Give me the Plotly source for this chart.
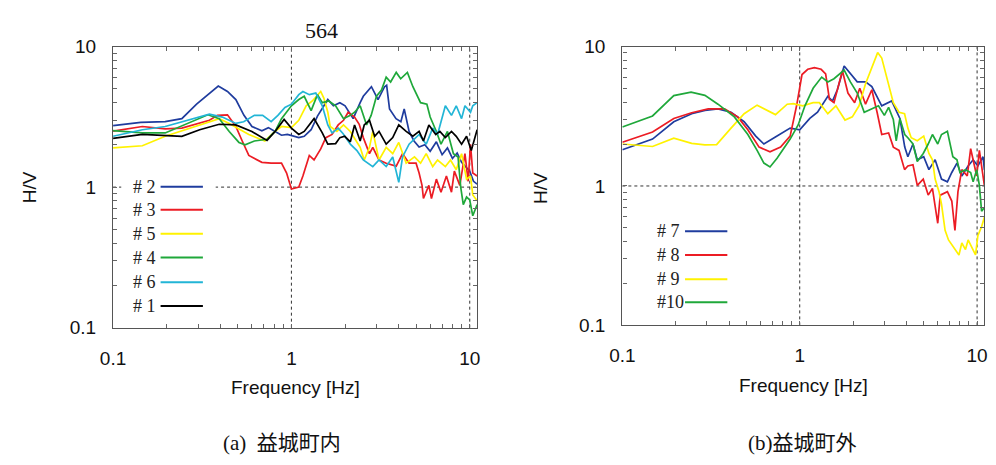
import plotly.graph_objects as go

W, H = 996, 465

# ---------------- data: (a) inside Mashiki town ----------------
f2 = [0.1, 0.143, 0.196, 0.243, 0.294, 0.333, 0.389, 0.438, 0.488, 0.542, 0.601, 0.683, 0.743, 0.81, 0.88, 0.95, 1.04, 1.1, 1.18, 1.29, 1.4, 1.48, 1.6, 1.72, 1.87, 2.0, 2.14, 2.22, 2.43, 2.53, 2.81, 3.06, 3.33, 3.42, 3.55, 3.86, 4.11, 4.29, 4.57, 4.87, 5.2, 5.6, 6.0, 6.5, 7.0, 7.5, 8.0, 8.5, 9.0, 9.5, 10.0, 10.5, 11.0]
v2 = [2.74, 2.89, 2.92, 3.07, 3.89, 4.43, 5.24, 4.79, 4.2, 3.24, 2.7, 2.52, 2.65, 2.49, 2.34, 2.37, 2.28, 2.25, 2.3, 2.56, 3.2, 3.6, 4.2, 3.79, 3.99, 3.79, 3.3, 3.07, 3.99, 4.43, 5.18, 4.2, 5.18, 5.3, 3.6, 3.07, 2.92, 3.6, 2.49, 2.13, 1.93, 2.0, 1.8, 2.1, 1.7, 1.9, 1.6, 1.75, 1.5, 1.4, 1.3, 1.1, 1.05]

f3 = [0.1, 0.146, 0.196, 0.243, 0.347, 0.385, 0.438, 0.488, 0.53, 0.577, 0.683, 0.77, 0.88, 0.94, 1.0, 1.1, 1.16, 1.26, 1.34, 1.46, 1.56, 1.69, 1.83, 1.96, 2.08, 2.26, 2.4, 2.53, 2.74, 2.86, 3.1, 3.4, 3.87, 4.2, 4.57, 5.0, 5.2, 5.4, 5.5, 5.9, 6.1, 6.5, 6.9, 7.4, 7.9, 8.2, 8.8, 9.4, 9.8, 10.1, 10.4, 11.0]
v3 = [2.5, 2.7, 2.6, 2.63, 2.99, 3.24, 3.27, 2.7, 2.13, 1.68, 1.5, 1.48, 1.48, 1.26, 0.97, 1.0, 1.2, 1.68, 1.56, 1.87, 2.25, 2.37, 2.77, 2.99, 3.41, 3.15, 2.8, 2.25, 1.73, 1.92, 1.56, 1.48, 1.41, 1.73, 1.48, 1.48, 1.26, 1.03, 0.83, 1.03, 0.83, 1.14, 0.92, 1.2, 0.92, 1.3, 1.03, 1.73, 1.1, 2.02, 1.26, 1.2]

f5 = [0.1, 0.146, 0.196, 0.27, 0.347, 0.394, 0.448, 0.577, 0.71, 0.81, 0.88, 1.0, 1.1, 1.21, 1.31, 1.46, 1.52, 1.6, 1.65, 1.8, 1.96, 2.14, 2.43, 2.56, 2.74, 2.86, 3.1, 3.4, 3.7, 4.0, 4.4, 4.9, 5.3, 5.7, 6.2, 6.6, 7.3, 7.8, 8.4, 9.0, 9.6, 10.1, 10.4, 11.0]
v5 = [1.9, 1.97, 2.3, 2.63, 2.92, 3.07, 2.84, 2.37, 2.13, 2.49, 2.7, 2.65, 2.99, 3.79, 4.1, 4.79, 4.3, 3.41, 2.7, 2.49, 2.77, 2.49, 1.92, 1.56, 1.92, 2.49, 1.56, 1.92, 1.73, 2.08, 1.48, 1.64, 1.48, 1.73, 1.4, 1.56, 1.4, 1.56, 1.33, 1.73, 1.14, 1.2, 0.88, 0.8]

f4 = [0.1, 0.146, 0.196, 0.248, 0.34, 0.394, 0.448, 0.508, 0.55, 0.62, 0.73, 0.81, 0.88, 1.0, 1.1, 1.18, 1.29, 1.4, 1.49, 1.62, 1.77, 1.96, 2.14, 2.26, 2.43, 2.64, 2.8, 3.0, 3.2, 3.4, 3.6, 3.87, 4.1, 4.47, 4.8, 5.3, 5.75, 6.0, 6.5, 6.9, 7.5, 8.1, 8.6, 8.9, 9.2, 9.6, 10.0, 10.4, 11.0]
v4 = [2.52, 2.43, 2.43, 2.77, 3.27, 3.07, 2.49, 2.08, 2.0, 2.13, 2.19, 2.49, 3.07, 3.79, 4.2, 4.43, 3.5, 4.55, 3.99, 4.1, 3.79, 3.07, 3.24, 3.41, 3.79, 2.77, 3.24, 4.43, 4.9, 6.06, 5.6, 6.55, 5.9, 6.55, 5.18, 3.99, 3.89, 3.15, 2.49, 2.02, 2.49, 1.73, 1.64, 1.0, 0.75, 0.85, 0.81, 0.625, 0.75]

f6 = [0.1, 0.146, 0.196, 0.248, 0.347, 0.41, 0.488, 0.54, 0.62, 0.69, 0.77, 0.84, 0.92, 1.0, 1.1, 1.16, 1.26, 1.37, 1.49, 1.6, 1.69, 1.83, 1.95, 2.14, 2.33, 2.53, 2.7, 2.86, 3.1, 3.4, 3.7, 4.0, 4.2, 4.57, 5.2, 5.7, 6.2, 6.6, 7.3, 7.9, 8.4, 9.0, 9.4, 10.1, 10.4, 11.0]
v6 = [2.3, 2.56, 2.7, 2.92, 3.3, 3.15, 2.84, 2.92, 3.24, 3.24, 2.92, 3.24, 3.69, 3.89, 4.55, 4.79, 4.55, 4.67, 3.79, 2.77, 2.43, 2.63, 2.4, 2.02, 1.82, 1.56, 1.48, 1.4, 1.56, 1.4, 1.64, 1.08, 1.64, 2.02, 2.37, 2.02, 2.63, 2.37, 3.79, 3.24, 3.79, 3.07, 3.79, 3.41, 3.79, 3.99]

f1 = [0.1, 0.146, 0.243, 0.306, 0.394, 0.488, 0.6, 0.73, 0.81, 0.91, 1.0, 1.1, 1.18, 1.34, 1.49, 1.6, 1.77, 1.87, 1.99, 2.14, 2.26, 2.43, 2.56, 2.74, 2.93, 3.1, 3.4, 3.7, 4.0, 4.4, 4.8, 5.2, 5.5, 5.9, 6.45, 6.8, 7.3, 7.9, 8.4, 9.0, 9.6, 10.2, 11.0]
v1 = [2.22, 2.37, 2.3, 2.56, 2.8, 2.77, 2.49, 2.15, 2.49, 3.03, 2.63, 2.37, 2.49, 3.07, 2.43, 2.02, 2.04, 2.25, 2.3, 2.1, 2.77, 2.13, 2.77, 2.99, 2.3, 2.49, 2.02, 2.25, 2.77, 2.49, 2.3, 2.49, 2.13, 2.77, 2.37, 2.49, 2.25, 2.49, 2.3, 2.02, 2.3, 1.82, 2.56]

# ---------------- data: (b) outside Mashiki town ----------------
f7 = [0.1, 0.148, 0.195, 0.246, 0.292, 0.346, 0.41, 0.486, 0.565, 0.628, 0.745, 0.883, 1.0, 1.14, 1.26, 1.44, 1.53, 1.63, 1.78, 1.9, 2.11, 2.35, 2.55, 2.9, 3.3, 3.67, 3.91, 4.07, 4.35, 4.6, 5.0, 5.35, 5.8, 6.3, 6.8, 7.2, 7.7, 8.2, 8.9, 9.5, 10.1, 10.8, 11.0]
v7 = [1.82, 2.17, 2.89, 3.3, 3.48, 3.57, 3.38, 2.89, 2.28, 2.0, 2.28, 2.6, 2.53, 3.05, 3.38, 4.4, 4.07, 4.9, 7.26, 6.53, 5.58, 5.58, 5.16, 3.76, 4.07, 3.05, 1.9, 1.62, 2.0, 1.54, 1.62, 1.31, 1.54, 1.12, 1.07, 1.25, 1.46, 1.18, 1.39, 1.54, 1.39, 1.62, 1.3]

f8 = [0.1, 0.148, 0.195, 0.246, 0.305, 0.377, 0.447, 0.51, 0.59, 0.68, 0.78, 0.883, 0.96, 1.03, 1.11, 1.21, 1.32, 1.4, 1.47, 1.56, 1.74, 1.87, 2.04, 2.18, 2.35, 2.55, 2.73, 2.9, 3.17, 3.37, 3.63, 3.9, 4.07, 4.35, 4.6, 4.97, 5.3, 5.6, 6.0, 6.2, 6.8, 7.2, 7.5, 7.8, 8.2, 8.8, 9.2, 9.5, 9.95, 10.3, 10.8, 11.0]
v8 = [2.06, 2.44, 3.05, 3.35, 3.57, 3.57, 3.13, 2.53, 1.9, 1.76, 1.9, 2.28, 3.76, 6.3, 6.87, 7.07, 6.87, 6.36, 4.18, 3.96, 6.71, 4.64, 3.96, 5.02, 3.86, 4.9, 3.38, 2.34, 2.4, 1.9, 1.8, 1.31, 1.39, 1.42, 1.01, 1.12, 0.86, 0.96, 0.54, 0.86, 0.91, 0.78, 0.48, 0.91, 1.31, 1.18, 1.85, 1.54, 1.18, 1.8, 1.18, 1.0]

f9 = [0.1, 0.148, 0.195, 0.246, 0.292, 0.34, 0.41, 0.486, 0.575, 0.73, 0.85, 0.92, 1.04, 1.19, 1.29, 1.44, 1.6, 1.8, 1.98, 2.16, 2.35, 2.55, 2.75, 2.9, 3.1, 3.22, 3.37, 3.63, 3.9, 4.07, 4.25, 4.6, 5.0, 5.35, 5.6, 5.8, 6.1, 6.3, 6.6, 6.9, 7.3, 7.9, 8.2, 8.6, 8.9, 9.3, 9.8, 10.1, 10.6, 11.0]
v9 = [2.0, 1.92, 2.2, 2.02, 1.97, 1.98, 2.6, 3.3, 3.8, 3.25, 3.86, 3.9, 3.76, 3.96, 3.96, 3.3, 3.76, 2.97, 3.13, 3.76, 5.42, 7.07, 9.05, 8.27, 5.88, 4.9, 3.96, 3.38, 3.3, 2.6, 2.22, 2.11, 2.28, 1.71, 1.54, 1.12, 0.91, 0.74, 0.48, 0.41, 0.37, 0.32, 0.39, 0.35, 0.41, 0.37, 0.32, 0.44, 0.51, 0.6]

f10 = [0.1, 0.148, 0.195, 0.244, 0.292, 0.346, 0.428, 0.51, 0.575, 0.628, 0.68, 0.745, 0.883, 0.98, 1.07, 1.19, 1.33, 1.44, 1.56, 1.78, 1.93, 2.11, 2.31, 2.55, 2.78, 3.0, 3.17, 3.37, 3.5, 3.67, 3.91, 4.07, 4.35, 4.6, 4.97, 5.3, 5.6, 6.0, 6.3, 6.8, 7.3, 7.7, 8.0, 8.6, 9.2, 9.5, 9.95, 10.3, 10.6, 11.0]
v10 = [2.65, 3.18, 4.45, 4.71, 4.47, 3.86, 3.13, 2.34, 1.8, 1.46, 1.37, 1.58, 2.17, 2.74, 3.76, 5.02, 6.04, 5.58, 5.88, 6.78, 5.58, 4.64, 3.38, 3.57, 3.76, 3.21, 3.66, 3.0, 2.11, 3.05, 2.34, 2.22, 2.0, 1.5, 1.71, 2.0, 2.34, 2.0, 2.34, 2.47, 1.62, 1.54, 1.25, 1.31, 1.25, 1.07, 1.31, 1.01, 0.66, 0.7]

left_labels = ["# 2", "# 3", "# 5", "# 4", "# 6", "# 1"]
right_labels = ["# 7", "# 8", "# 9", "#10"]
decades = [0.1, 1, 10]
tick_vals = [0.1, 0.2, 0.3, 0.4, 0.5, 0.6, 0.7, 0.8, 0.9, 1, 2, 3, 4, 5, 6, 7, 8, 9, 10]
tick_text = ["0.1", "", "", "", "", "", "", "", "", "1", "", "", "", "", "", "", "", "", "10"]

BLUE, RED, YEL, GRN, CYA, BLK = "#1f3c9e", "#ec1c24", "#fff200", "#1fa83a", "#22b5d6", "#000000"

left_series = [(f2, v2, BLUE), (f3, v3, RED), (f5, v5, YEL), (f4, v4, GRN), (f6, v6, CYA), (f1, v1, BLK)]
right_series = [(f7, v7, BLUE), (f8, v8, RED), (f9, v9, YEL), (f10, v10, GRN)]


def px(x):
    return x / W


def py(y):
    return 1 - y / H


fig = go.Figure()
for (f, v, c), name in zip(left_series, left_labels):
    fig.add_trace(go.Scatter(x=f, y=v, mode="lines", line=dict(color=c, width=1.7), name=name,
                             xaxis="x", yaxis="y", showlegend=False))
for (f, v, c), name in zip(right_series, right_labels):
    fig.add_trace(go.Scatter(x=f, y=v, mode="lines", line=dict(color=c, width=1.7), name=name,
                             xaxis="x2", yaxis="y2", showlegend=False))

tickfont = dict(family="Liberation Sans, Arial, sans-serif", size=19, color="#111")
axis_common = dict(
    type="log", showline=True, mirror="allticks", linecolor="#555", linewidth=1.3,
    ticks="inside", ticklen=4, tickcolor="#666", tickwidth=1,
    showgrid=False, tickmode="array", tickvals=tick_vals, ticktext=tick_text,
    tickfont=tickfont, zeroline=False,
)

fig.update_layout(
    width=W, height=H, margin=dict(l=0, r=0, t=0, b=0),
    paper_bgcolor="white", plot_bgcolor="white", showlegend=False,
    xaxis=dict(domain=[px(101.7), px(471.7)], range=[-1, 1.0414], anchor="y", ticklabelstandoff=13, **axis_common),
    yaxis=dict(domain=[py(332.7), py(38.3)], range=[-1, 1], anchor="x", ticklabelstandoff=12, **axis_common),
    xaxis2=dict(domain=[px(619.3), px(987.3)], range=[-1, 1.0414], anchor="y2", ticklabelstandoff=13, **axis_common),
    yaxis2=dict(domain=[py(330.3), py(38.3)], range=[-1, 1], anchor="x2", ticklabelstandoff=12, **axis_common),
)

shapes = []
annotations = []

# dotted decade grid lines
grid_line = dict(color="#333", width=1, dash="dot")
for xr, yr in (("x", "y"), ("x2", "y2")):
    for d in decades[1:]:
        shapes.append(dict(type="line", xref=xr, yref=yr + " domain", x0=d, x1=d, y0=0, y1=1,
                           line=grid_line, layer="below"))
    shapes.append(dict(type="line", xref=xr + " domain", yref=yr, x0=0, x1=1, y0=1, y1=1,
                       line=grid_line, layer="below"))

# white legend box (left panel)
shapes.append(dict(type="rect", xref="paper", yref="paper", x0=px(110), x1=px(206), y0=py(322), y1=py(172),
                   fillcolor="white", line=dict(width=0), layer="above"))

leg_font = dict(family="Liberation Serif, Times New Roman, serif", size=18, color="#222")
left_rows = [185, 209.3, 234.3, 259.3, 285, 310]
for (f, v, c), name, yy in zip(left_series, left_labels, left_rows):
    annotations.append(dict(x=px(120), y=py(yy), xref="paper", yref="paper", text=name, showarrow=False,
                            xanchor="left", yanchor="middle", font=leg_font))
    shapes.append(dict(type="line", xref="paper", yref="paper", x0=px(150), x1=px(193), y0=py(yy), y1=py(yy),
                       line=dict(color=c, width=2), layer="above"))

right_rows = [231.7, 256.7, 282, 306]
for (f, v, c), name, yy in zip(right_series, right_labels, right_rows):
    annotations.append(dict(x=px(652), y=py(yy), xref="paper", yref="paper", text=name, showarrow=False,
                            xanchor="left", yanchor="middle", font=leg_font))
    shapes.append(dict(type="line", xref="paper", yref="paper", x0=px(683), x1=px(726), y0=py(yy), y1=py(yy),
                       line=dict(color=c, width=2), layer="above"))

lab_font = dict(family="Liberation Sans, Arial, sans-serif", size=19, color="#111")
cap_font = dict(family="Liberation Serif, Noto Sans CJK JP, serif", size=21, color="#111")


def ann(x, y, text, font, angle=0):
    annotations.append(dict(x=px(x), y=py(y), xref="paper", yref="paper", text=text, showarrow=False,
                            xanchor="center", yanchor="middle", font=font, textangle=angle))


ann(314, 21, "564", dict(family="Liberation Serif, Times New Roman, serif", size=22, color="#111"))
ann(17, 186, "H/V", lab_font, -90)
ann(536, 186, "H/V", lab_font, -90)
ann(287, 395, "Frequency [Hz]", lab_font)
ann(803, 393, "Frequency [Hz]", lab_font)
ann(273, 453, "(a)  益城町内", cap_font)
ann(802, 453, "(b)益城町外", cap_font)

fig.update_layout(shapes=shapes, annotations=annotations)
fig.write_html("out.html")
